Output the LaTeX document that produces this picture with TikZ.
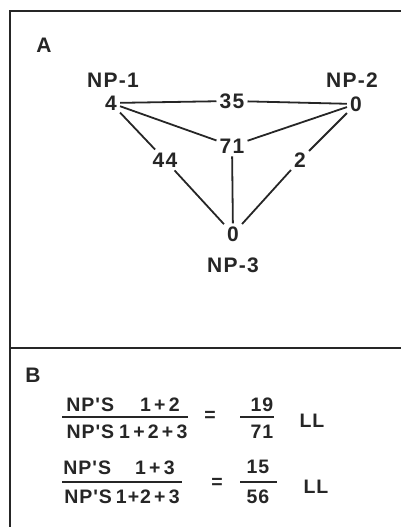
\documentclass[tikz,border=0pt]{standalone}
\usepackage{fontspec}
\setmainfont{Liberation Sans}
\newfontfamily\letfont[LetterSpace=6,BoldFont={Liberation Sans Bold}]{Liberation Sans}
\newfontfamily\fracfont[LetterSpace=5,BoldFont={Liberation Sans Bold}]{Liberation Sans}
\begin{document}
\begin{tikzpicture}[x=1pt,y=-1pt,
  ink/.style={draw=black!85,line width=1.8pt},
  txt/.style={inner sep=0pt,text=black!85,font=\fontsize{21}{24}\selectfont\letfont\bfseries},
  num/.style={txt,inner sep=3pt},
  frac/.style={txt,font=\fontsize{19.5}{22}\selectfont\fracfont\bfseries}
]
\useasboundingbox (0,0) rectangle (401,527);
% frame
\draw[ink] (401,11) -- (10,11) -- (10,527);
\draw[ink] (10,348) -- (401,348);
% panel A
\node[txt] (lA) at (44,45) {A};
\node[txt] (np1) at (113,80) {NP-1};
\node[txt] (np2) at (352,80) {NP-2};
\node[txt] (np3) at (233,265) {NP-3};
\node[num] (n1) at (111,103) {4};
\node[num] (n2) at (356,104) {0};
\node[num] (n3) at (233,234) {0};
\node[num] (l35) at (232,101) {35};
\node[num] (l71) at (232,146) {71};
\node[num] (l44) at (165,160) {44};
\node[num] (l2) at (300,160) {2};
\draw[ink] (n1) -- (l35) -- (n2);
\draw[ink] (n1) -- (l71) -- (n2);
\draw[ink] (n1) -- (l44) -- (n3);
\draw[ink] (n2) -- (l2) -- (n3);
\draw[ink] (l71) -- (n3);
% panel B
\node[txt] (lB) at (33,375) {B};
\node[frac] (f1n) at (123,405) {NP'S\hspace{26pt}1\,+\,2};
\node[frac] (f1d) at (127,432) {NP'S\hspace{5pt}1\,+\,2\,+\,3};
\coordinate (f1a) at (62,417);
\coordinate (f1b) at (188,417);
\draw[ink] (f1a) -- (f1b);
\node[frac] (e1) at (210,416) {=};
\node[frac] (v1n) at (262,405) {19};
\node[frac] (v1d) at (262,432) {71};
\coordinate (v1a) at (240,417);
\coordinate (v1b) at (274,417);
\draw[ink] (v1a) -- (v1b);
\node[frac] (u1) at (312,421) {LL};
\node[frac] (f2n) at (119,468) {NP'S\hspace{24pt}1\,+\,3};
\node[frac] (f2d) at (122,497) {NP'S\hspace{4pt}1+2\,+\,3};
\coordinate (f2a) at (62,482);
\coordinate (f2b) at (182,482);
\draw[ink] (f2a) -- (f2b);
\node[frac] (e2) at (217,483) {=};
\node[frac] (v2n) at (258,467) {15};
\node[frac] (v2d) at (258,497) {56};
\coordinate (v2a) at (240,482);
\coordinate (v2b) at (277,482);
\draw[ink] (v2a) -- (v2b);
\node[frac] (u2) at (316,487) {LL};
\end{tikzpicture}
\end{document}
